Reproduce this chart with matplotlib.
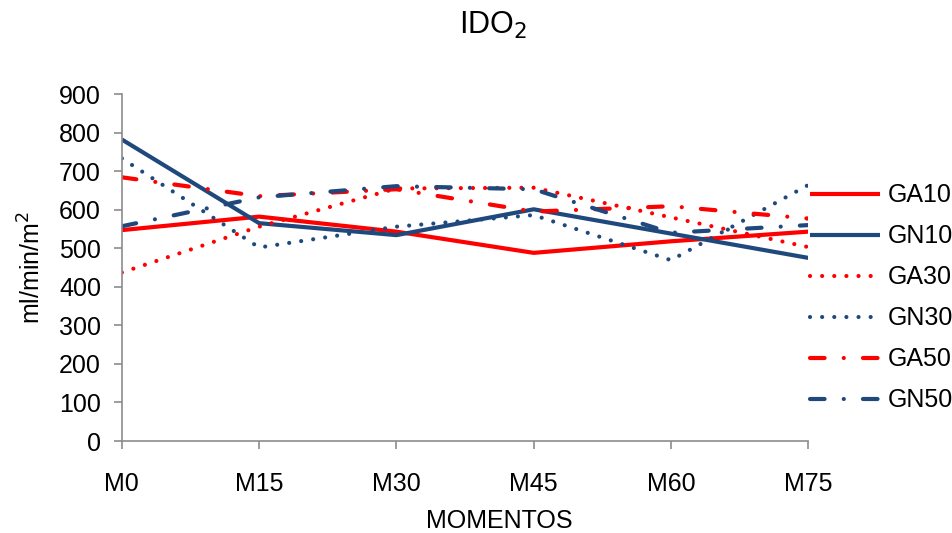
import matplotlib.pyplot as plt

plt.rcParams['font.family'] = ['Liberation Sans', 'DejaVu Sans']

momentos = ['M0', 'M15', 'M30', 'M45', 'M60', 'M75']
ga10 = [547, 582, 543, 488, 518, 543]
gn10 = [782, 565, 534, 601, 538, 475]
ga30 = [437, 556, 655, 657, 580, 503]
gn30 = [733, 502, 556, 586, 469, 664]
ga50 = [684, 635, 653, 595, 609, 577]
gn50 = [557, 632, 661, 653, 540, 560]

rojo = '#ff0000'
azul = '#1f497d'
fs = 18

fig = plt.figure(figsize=(9.52, 5.33), dpi=100)
ax = fig.add_axes([0.128, 0.1726, 0.721, 0.651])

x = range(len(momentos))
punto = (0.01, 2.9)
raya_punto = (3.5, 4.6, 0.01, 4.6)
ax.plot(x, ga10, color=rojo, lw=3, label='GA10', solid_capstyle='butt')
ax.plot(x, gn10, color=azul, lw=3, label='GN10', solid_capstyle='butt')
ax.plot(x, ga30, color=rojo, lw=3, label='GA30', dashes=punto, dash_capstyle='round')
ax.plot(x, gn30, color=azul, lw=3, label='GN30', dashes=punto, dash_capstyle='round')
ax.plot(x, ga50, color=rojo, lw=3, label='GA50', dashes=raya_punto, dash_capstyle='round')
ax.plot(x, gn50, color=azul, lw=3, label='GN50', dashes=raya_punto, dash_capstyle='round')

ax.set_xlim(0, len(momentos) - 1)
ax.set_ylim(0, 900)
ax.set_xticks(list(x))
ax.set_xticklabels(momentos)
ax.set_yticks(range(0, 901, 100))

for s in ['top', 'right']:
    ax.spines[s].set_visible(False)
for s in ['left', 'bottom']:
    ax.spines[s].set_color('#8c8c8c')
    ax.spines[s].set_linewidth(1.2)
ax.tick_params(axis='both', direction='out', length=6, width=1.2, color='#8c8c8c',
               labelsize=fs)
ax.tick_params(axis='y', pad=9)
ax.tick_params(axis='x', pad=16)

ax.set_ylabel('ml/min/m$^2$', fontsize=fs, labelpad=10)
fig.text(0.525, 0.022, 'MOMENTOS', fontsize=fs, ha='center', va='center')
fig.text(0.518, 0.952, 'IDO$_2$', fontsize=22, ha='center', va='center')

fig.legend(loc='center left', bbox_to_anchor=(0.838, 0.441), frameon=False,
           fontsize=fs, handlelength=2.8, labelspacing=0.68, handletextpad=0.3,
           borderpad=0)

fig.savefig('out.png', dpi=100)
